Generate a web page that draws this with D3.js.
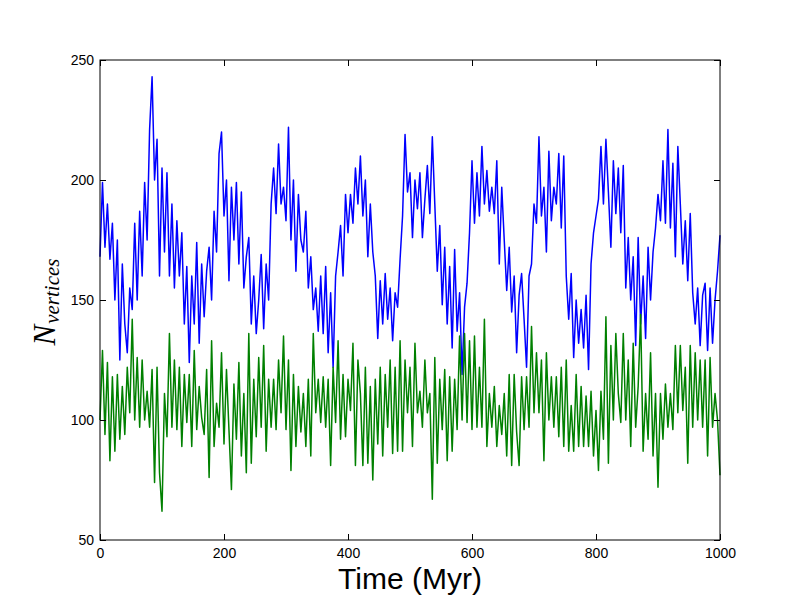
<!DOCTYPE html>
<html>
<head>
<meta charset="utf-8">
<script src="https://cdn.jsdelivr.net/npm/d3@7"></script>
<style>
  body { margin: 0; background: #fff; }
  svg { display: block; }
</style>
</head>
<body>
<script>
// sampling step of the time series (Myr)
const timeStep = 4;

// blue series, t = 0, 4, 8 ... 1000
const blueValues = [
  168,199,172,190,167,182,150,175,125,165,
  140,128,155,146,182,150,187,160,199,175,
  221,243,200,217,160,205,170,203,160,190,
  155,183,160,178,140,164,124,160,140,174,
  132,165,143,162,172,150,187,170,211,220,
  185,200,158,197,175,199,165,195,155,168,
  176,140,160,136,150,169,138,165,150,190,
  205,186,215,190,197,183,222,175,200,162,
  194,175,170,187,155,168,146,155,137,160,
  136,164,128,153,122,160,170,181,160,194,
  178,194,182,205,190,210,185,200,168,190,
  170,160,134,158,140,161,142,155,133,153,
  147,167,185,219,195,203,176,200,188,203,
  176,192,206,186,218,190,162,181,148,172,
  140,164,130,171,137,153,119,147,157,178,
  208,182,203,185,214,190,204,187,197,186,
  208,165,197,175,154,172,145,160,128,152,
  161,142,122,160,165,190,182,218,185,197,
  170,212,183,197,190,211,180,210,160,142,
  161,126,150,132,146,130,152,121,165,178,
  185,192,214,190,217,195,172,208,186,205,
  178,206,155,176,150,168,131,176,140,160,
  134,172,150,170,180,194,183,208,182,221,
  180,207,168,214,190,165,183,158,186,153,
  140,155,131,152,157,129,155,132,150,162,
  177
];

// green series, same time grid
const greenValues = [
  100,129,94,124,83,118,87,119,92,114,
  94,122,103,142,100,126,97,125,100,112,
  97,121,74,122,78,62,111,93,136,97,
  125,96,122,89,119,99,119,89,129,96,
  114,101,94,121,76,133,89,107,97,128,
  90,121,96,71,115,92,124,85,111,78,
  136,82,117,93,126,97,131,87,117,97,
  117,96,125,103,135,96,125,79,119,89,
  114,95,111,89,117,85,136,103,117,99,
  118,97,117,81,122,99,133,92,119,93,
  117,104,132,81,125,111,81,122,82,114,
  75,117,90,122,85,119,97,125,86,122,
  87,133,87,125,103,122,89,132,103,112,
  97,125,103,111,67,126,82,117,96,121,
  83,118,87,117,96,135,100,136,99,133,
  96,135,97,122,97,142,89,111,97,114,
  89,106,94,111,85,119,81,119,95,81,
  118,96,118,97,139,103,128,103,125,83,
  128,100,118,97,118,93,122,89,125,87,
  106,87,119,89,114,89,110,89,112,85,
  104,79,112,92,143,82,131,100,136,111,
  99,136,100,125,89,132,97,114,144,87,
  111,92,128,85,111,72,111,92,115,97,
  111,96,131,103,131,104,122,82,131,97,
  128,100,125,97,125,85,126,97,111,100,
  77
];

const xTicks = [0, 200, 400, 600, 800, 1000];
const yTicks = [50, 100, 150, 200, 250];

const W = 800, H = 600;
const margin = { top: 60, right: 80, bottom: 60, left: 100 };
const width = W - margin.left - margin.right;
const height = H - margin.top - margin.bottom;

const svg = d3.select('body').append('svg')
  .attr('width', W)
  .attr('height', H);

const g = svg.append('g')
  .attr('transform', `translate(${margin.left},${margin.top})`);

const x = d3.scaleLinear().domain([0, 1000]).range([0, width]);
const y = d3.scaleLinear().domain([50, 250]).range([height, 0]);

const line = d3.line()
  .x((d, i) => x(i * timeStep))
  .y(d => y(d));

g.append('path')
  .datum(blueValues)
  .attr('fill', 'none')
  .attr('stroke', '#0000ff')
  .attr('stroke-width', 1.5)
  .attr('stroke-linejoin', 'round')
  .attr('d', line);

g.append('path')
  .datum(greenValues)
  .attr('fill', 'none')
  .attr('stroke', '#008000')
  .attr('stroke-width', 1.5)
  .attr('stroke-linejoin', 'round')
  .attr('d', line);

// axes, ticks pointing inward like classic matplotlib
const tickFont = '"Liberation Sans", Arial, sans-serif';
const tl = 6;
const fmt = d3.format('d');

const axBottom = g.append('g')
  .attr('transform', `translate(0,${height})`)
  .call(d3.axisBottom(x).tickValues(xTicks).tickFormat(fmt).tickSizeInner(-tl).tickSizeOuter(0).tickPadding(8));
const axTop = g.append('g')
  .call(d3.axisTop(x).tickValues(xTicks).tickSizeInner(-tl).tickSizeOuter(0).tickFormat(''));
const axLeft = g.append('g')
  .call(d3.axisLeft(y).tickValues(yTicks).tickFormat(fmt).tickSizeInner(-tl).tickSizeOuter(0).tickPadding(6));
const axRight = g.append('g')
  .attr('transform', `translate(${width},0)`)
  .call(d3.axisRight(y).tickValues(yTicks).tickSizeInner(-tl).tickSizeOuter(0).tickFormat(''));

[axBottom, axTop, axLeft, axRight].forEach(a => {
  a.select('.domain').remove();
  a.selectAll('text')
    .attr('fill', '#000')
    .style('font-family', tickFont)
    .style('font-size', '14px');
  a.selectAll('line').attr('stroke', '#000');
});

// frame
g.append('rect')
  .attr('width', width)
  .attr('height', height)
  .attr('fill', 'none')
  .attr('stroke', '#000')
  .attr('stroke-width', 1);

// x label
svg.append('text')
  .attr('x', margin.left + width / 2)
  .attr('y', 589)
  .attr('text-anchor', 'middle')
  .style('font-family', tickFont)
  .style('font-size', '30px')
  .text('Time (Myr)');

// y label: N with subscript "vertices"
const ylab = svg.append('text')
  .attr('transform', `translate(55,302) rotate(-90)`)
  .attr('text-anchor', 'middle')
  .style('font-family', '"Liberation Serif", "Times New Roman", serif')
  .style('font-style', 'italic');
ylab.append('tspan').style('font-size', '31px').text('N');
ylab.append('tspan').style('font-size', '21px').attr('dy', 4).attr('dx', 1).text('vertices');
</script>
</body>
</html>
